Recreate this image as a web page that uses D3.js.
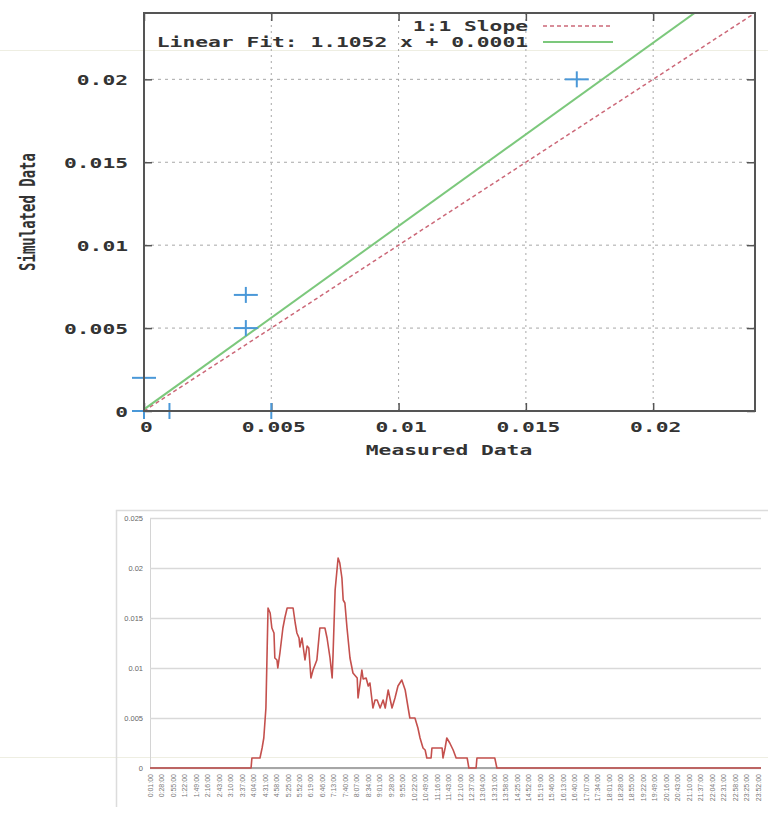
<!DOCTYPE html>
<html>
<head>
<meta charset="utf-8">
<script src="https://cdn.jsdelivr.net/npm/d3@7"></script>
<style>
  body { margin: 0; background: #fff; }
</style>
</head>
<body>
<script>
// scatter: measured vs simulated
let measured  = [0, 0.001, 0.005, 0, 0.004, 0.004, 0.017]
let simulated = [0, 0, 0, 0.002, 0.005, 0.007, 0.02]
let fitSlope = 1.1052
let fitIntercept = 0.0001
let scatterTicks = [0, 0.005, 0.01, 0.015, 0.02]

// time series (minute of day, value)
let seriesMinutes = [1, 239, 241, 260, 265, 269, 274, 277, 279, 284,
    288, 293, 295, 300, 302, 307, 314, 319, 324, 338,
    343, 347, 352, 354, 359, 366, 371, 375, 380, 385,
    394, 401, 413, 418, 425, 430, 432, 437, 444, 448,
    453, 456, 460, 465, 472, 479, 489, 491, 496, 500,
    503, 510, 515, 519, 526, 531, 536, 543, 550, 555,
    562, 566, 571, 578, 585, 594, 602, 609, 613, 625,
    632, 637, 644, 649, 653, 663, 665, 689, 691, 696,
    700, 707, 715, 722, 748, 752, 769, 771, 813, 818, 1440]
let seriesValues = [0, 0, 0.001, 0.001, 0.002, 0.003, 0.006, 0.012, 0.016, 0.0155,
    0.014, 0.0135, 0.011, 0.0108, 0.010, 0.0115, 0.014, 0.0151, 0.016, 0.016,
    0.0145, 0.0135, 0.013, 0.0121, 0.013, 0.0108, 0.0122, 0.012, 0.009, 0.0098,
    0.0108, 0.014, 0.014, 0.013, 0.011, 0.009, 0.0112, 0.0178, 0.021, 0.0205,
    0.019, 0.0168, 0.0165, 0.014, 0.011, 0.0095, 0.009, 0.007, 0.0085, 0.0098,
    0.0089, 0.009, 0.0082, 0.0085, 0.006, 0.0068, 0.0068, 0.006, 0.0068, 0.006,
    0.0078, 0.007, 0.006, 0.007, 0.0082, 0.0088, 0.0078, 0.006, 0.005, 0.005,
    0.004, 0.003, 0.002, 0.0018, 0.001, 0.001, 0.002, 0.002, 0.001, 0.002,
    0.003, 0.0025, 0.0018, 0.001, 0.001, 0, 0, 0.001, 0.001, 0, 0]
let seriesTicks = [0, 0.005, 0.01, 0.015, 0.02, 0.025]
let timeLabels = ["0:01:00", "0:28:00", "0:55:00", "1:22:00", "1:49:00", "2:16:00",
    "2:43:00", "3:10:00", "3:37:00", "4:04:00", "4:31:00", "4:58:00", "5:25:00",
    "5:52:00", "6:19:00", "6:46:00", "7:13:00", "7:40:00", "8:07:00", "8:34:00",
    "9:01:00", "9:28:00", "9:55:00", "10:22:00", "10:49:00", "11:16:00", "11:43:00",
    "12:10:00", "12:37:00", "13:04:00", "13:31:00", "13:58:00", "14:25:00", "14:52:00",
    "15:19:00", "15:46:00", "16:13:00", "16:40:00", "17:07:00", "17:34:00", "18:01:00",
    "18:28:00", "18:55:00", "19:22:00", "19:49:00", "20:16:00", "20:43:00", "21:10:00",
    "21:37:00", "22:04:00", "22:31:00", "22:58:00", "23:25:00", "23:52:00"]

let svg = d3.select('body')
    .append('svg')
    .attr('width', 768)
    .attr('height', 818)

// faint stray lines in the source picture
svg.append("line").attr("x1", 0).attr("x2", 768).attr("y1", 50.5).attr("y2", 50.5)
    .style("stroke", "#eeeee2").style("stroke-width", 1)
svg.append("line").attr("x1", 0).attr("x2", 768).attr("y1", 757.5).attr("y2", 757.5)
    .style("stroke", "#eeeee2").style("stroke-width", 1)

// ---------- top chart (gnuplot style) ----------
let monoFont = "'DejaVu Sans Mono', monospace"
let charW = 12.8

function stretch(sel) {
    sel.attr("textLength", function () { return this.textContent.length * charW })
        .attr("lengthAdjust", "spacingAndGlyphs")
}

let x = d3.scaleLinear().domain([0, 0.024]).range([144, 755])
let y = d3.scaleLinear().domain([0, 0.024]).range([411, 13])

let topG = svg.append("g")

// grid
topG.append("g").selectAll("line")
    .data(scatterTicks.slice(1))
    .enter().append("line")
    .attr("x1", d => x(d)).attr("x2", d => x(d))
    .attr("y1", y(0)).attr("y2", y(0.024))
    .style("stroke", "#a8a8a8").style("stroke-dasharray", "2,4")
topG.append("g").selectAll("line")
    .data(scatterTicks.slice(1))
    .enter().append("line")
    .attr("x1", x(0)).attr("x2", x(0.024))
    .attr("y1", d => y(d)).attr("y2", d => y(d))
    .style("stroke", "#a8a8a8").style("stroke-dasharray", "3,4")

// axes, ticks pointing inward on all four sides
let fmt = d => String(d)
let axB = topG.append("g").attr("transform", `translate(0,${y(0)})`)
    .call(d3.axisBottom(x).tickValues(scatterTicks).tickSize(-8).tickFormat(fmt))
let axL = topG.append("g").attr("transform", `translate(${x(0)},0)`)
    .call(d3.axisLeft(y).tickValues(scatterTicks).tickSize(-8).tickFormat(fmt))
topG.append("g").attr("transform", `translate(0,${y(0.024)})`)
    .call(d3.axisTop(x).tickValues(scatterTicks).tickSize(-8).tickFormat(""))
topG.append("g").attr("transform", `translate(${x(0.024)},0)`)
    .call(d3.axisRight(y).tickValues(scatterTicks).tickSize(-8).tickFormat(""))

topG.selectAll(".domain").remove()
topG.selectAll(".tick line").style("stroke", "#555").style("stroke-width", 1.5)

axB.selectAll("text")
    .attr("y", 21).attr("dy", null).attr("x", 2)
    .style("font-family", monoFont).style("font-size", "14px").style("font-weight", "bold")
    .style("fill", "#333")
    .call(stretch)
axL.selectAll("text")
    .attr("x", -16).attr("dy", "0.36em")
    .style("font-family", monoFont).style("font-size", "14px").style("font-weight", "bold")
    .style("fill", "#333")
    .call(stretch)

// 1:1 line and fit line
let clip = topG.append("clipPath").attr("id", "plotclip")
clip.append("rect").attr("x", x(0)).attr("y", y(0.024))
    .attr("width", x(0.024) - x(0)).attr("height", y(0) - y(0.024))

let lineXY = d3.line().x(d => x(d[0])).y(d => y(d[1]))

topG.append("path")
    .attr("d", lineXY([[0, 0], [0.024, 0.024]]))
    .attr("clip-path", "url(#plotclip)")
    .style("fill", "none").style("stroke", "#cc6878").style("stroke-width", 1.5)
    .style("stroke-dasharray", "4,3")
topG.append("path")
    .attr("d", lineXY([[0, fitIntercept], [0.024, fitSlope * 0.024 + fitIntercept]]))
    .attr("clip-path", "url(#plotclip)")
    .style("fill", "none").style("stroke", "#7cc87c").style("stroke-width", 2)

// points as + marks
let pts = d3.zip(measured, simulated)
let marks = topG.append("g").selectAll("g")
    .data(pts)
    .enter().append("g")
    .attr("transform", d => `translate(${x(d[0])},${y(d[1])})`)
marks.append("line").attr("x1", -12).attr("x2", 12).attr("y1", 0).attr("y2", 0)
    .style("stroke", "#4a98d8").style("stroke-width", 2)
marks.append("line").attr("x1", 0).attr("x2", 0).attr("y1", -8).attr("y2", 8)
    .style("stroke", "#4a98d8").style("stroke-width", 2)

// border
topG.append("rect")
    .attr("x", x(0)).attr("y", y(0.024))
    .attr("width", x(0.024) - x(0)).attr("height", y(0) - y(0.024))
    .style("fill", "none").style("stroke", "#555").style("stroke-width", 2)

// legend
let legend = [
    { label: "1:1 Slope", color: "#cc6878", dash: "4,3", width: 1.5 },
    { label: "Linear Fit: " + fitSlope + " x + " + fitIntercept.toFixed(4), color: "#7cc87c", dash: null, width: 2 }
]
let leg = topG.append("g").selectAll("g")
    .data(legend)
    .enter().append("g")
    .attr("transform", (d, i) => `translate(0,${31 + i * 16})`)
leg.append("text")
    .attr("x", 528).attr("y", 0)
    .attr("text-anchor", "end")
    .style("font-family", monoFont).style("font-size", "14px").style("font-weight", "bold")
    .style("fill", "#333")
    .text(d => d.label)
    .call(stretch)
leg.append("line")
    .attr("x1", 543).attr("x2", 613).attr("y1", -5).attr("y2", -5)
    .style("stroke", d => d.color).style("stroke-width", d => d.width)
    .style("stroke-dasharray", d => d.dash)

// axis titles
topG.append("text")
    .attr("x", 449).attr("y", 455)
    .attr("text-anchor", "middle")
    .style("font-family", monoFont).style("font-size", "14px").style("font-weight", "bold")
    .style("fill", "#333")
    .text("Measured Data")
    .call(stretch)
topG.append("text")
    .attr("transform", "translate(35,212) rotate(-90) scale(1,1.5)")
    .attr("text-anchor", "middle")
    .style("font-family", monoFont).style("font-size", "14px").style("font-weight", "bold")
    .style("fill", "#333")
    .text("Simulated Data")

// ---------- bottom chart (spreadsheet style) ----------
let x2 = d3.scaleLinear().domain([1, 1440]).range([150, 761])
let y2 = d3.scaleLinear().domain([0, 0.025]).range([768, 518])

let bot = svg.append("g")

// outer frame
bot.append("path")
    .attr("d", "M116.5,807 V510.5 H768")
    .style("fill", "none").style("stroke", "#dcdcdc").style("stroke-width", 1.5)

let yAx = bot.append("g").attr("transform", `translate(${x2(1)},0)`)
    .call(d3.axisLeft(y2).tickValues(seriesTicks).tickSize(-(x2(1440) - x2(1))).tickPadding(7).tickFormat(fmt))
yAx.select(".domain").style("stroke", "#d4d4d4")
yAx.selectAll(".tick line").style("stroke", "#d9d9d9").style("stroke-width", 1.5)
yAx.selectAll("text")
    .style("font-family", "'Liberation Sans', Arial, sans-serif").style("font-size", "7.5px")
    .style("fill", "#666")

// zero baseline
bot.append("line")
    .attr("x1", x2(1)).attr("x2", x2(1440)).attr("y1", y2(0)).attr("y2", y2(0))
    .style("stroke", "#a6a6a6").style("stroke-width", 2)

let toMinutes = s => { let p = s.split(":"); return +p[0] * 60 + +p[1] }
let xAx = bot.append("g").attr("transform", `translate(0,${y2(0)})`)
    .call(d3.axisBottom(x2).tickValues(timeLabels.map(toMinutes)).tickSize(0)
        .tickFormat((d, i) => timeLabels[i]))
xAx.select(".domain").remove()
xAx.selectAll("text")
    .attr("transform", "rotate(-90)")
    .attr("text-anchor", "end")
    .attr("x", -6).attr("y", 2.5).attr("dy", null)
    .style("font-family", "'Liberation Sans', Arial, sans-serif").style("font-size", "7px")
    .style("fill", "#777")

let series = d3.zip(seriesMinutes, seriesValues)
bot.append("path")
    .attr("d", d3.line().x(d => x2(d[0])).y(d => y2(d[1]))(series))
    .style("fill", "none").style("stroke", "#c4504d").style("stroke-width", 1.6)
    .style("stroke-linejoin", "round")
</script>
</body>
</html>
